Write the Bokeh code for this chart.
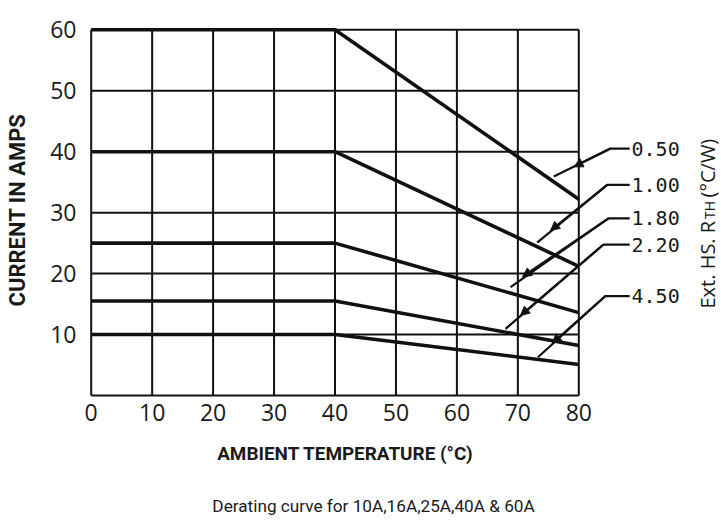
import math
from bokeh.plotting import figure
from bokeh.layouts import column
from bokeh.models import Range1d, FixedTicker, Arrow, NormalHead, ColumnDataSource
from bokeh.core.properties import value
from bokeh.embed import file_html
from bokeh.resources import INLINE

# ---------------- data ----------------
temps = [0, 40, 80]                       # ambient temperature break points (°C)
i_050 = [60, 60, 32.2]                    # Rth 0.50 °C/W
i_100 = [40, 40, 21.2]                    # Rth 1.00 °C/W
i_180 = [25, 25, 13.6]                    # Rth 1.80 °C/W
i_220 = [15.5, 15.5, 8.2]                 # Rth 2.20 °C/W
i_450 = [10, 10, 5.1]                     # Rth 4.50 °C/W
rth_labels = ["0.50", "1.00", "1.80", "2.20", "4.50"]
x_ticks = [0, 10, 20, 30, 40, 50, 60, 70, 80]
y_grid = [0, 10, 20, 30, 40, 50, 60]
y_ticks = [10, 20, 30, 40, 50, 60]
x_title = "AMBIENT TEMPERATURE (°C)"
y_title = "CURRENT IN AMPS"
caption = "Derating curve for 10A,16A,25A,40A & 60A"

# ---------------- layout constants ----------------
PX = 6.095                      # pixels per data unit (both axes)
OX, OY = 90.7, 395.0            # pixel position of data origin
W = 721
H1, H2 = 436, 85                # main chart + caption strip
ML, MR, MT, MB = 87, 0, 20, 37
fw, fh = W - ML - MR, H1 - MT - MB
x0 = (ML - OX) / PX
x1 = x0 + fw / PX
y1 = (OY - MT) / PX
y0 = y1 - fh / PX
STRIP_SHIFT = 9                 # measured vertical offset of the caption strip

INK = "#111111"
TXT = "#1a1a1a"

p = figure(width=W, height=H1, x_range=Range1d(x0, x1), y_range=Range1d(y0, y1),
           output_backend="svg", toolbar_location=None, title=None,
           min_border_left=ML, min_border_right=MR, min_border_top=MT, min_border_bottom=MB)
p.outline_line_color = None
p.xgrid.visible = False
p.ygrid.visible = False
p.background_fill_color = "white"
p.border_fill_color = "white"

# grid drawn from tick arrays, limited to the 0..80 / 0..60 box
gx0, gx1 = min(x_ticks), max(x_ticks)
gy0, gy1 = min(y_grid), max(y_grid)
p.segment(x0=x_ticks, y0=[gy0] * len(x_ticks), x1=x_ticks, y1=[gy1] * len(x_ticks),
          line_color=INK, line_width=2.0)
p.segment(x0=[gx0] * len(y_grid), y0=y_grid, x1=[gx1] * len(y_grid), y1=y_grid,
          line_color=INK, line_width=2.0)

# derating curves
for s in [i_050, i_100, i_180, i_220, i_450]:
    p.line(temps, s, line_width=3.6, line_color=INK, line_join="round")

# axes (tick labels only)
p.xaxis.ticker = FixedTicker(ticks=x_ticks)
p.yaxis.ticker = FixedTicker(ticks=y_ticks)
for ax in (p.xaxis, p.yaxis):
    ax.axis_line_color = None
    ax.major_tick_line_color = None
    ax.minor_tick_line_color = None
    ax.major_tick_out = 0
    ax.major_tick_in = 0
    ax.major_label_text_font = "Open Sans"
    ax.major_label_text_font_size = "23px"
    ax.major_label_text_color = TXT
p.xaxis.major_label_standoff = 4
p.yaxis.major_label_standoff = 11
p.yaxis.axis_label = y_title
p.yaxis.axis_label_text_font = "Roboto"
p.yaxis.axis_label_text_font_style = "bold"
p.yaxis.axis_label_text_font_size = "22px"
p.yaxis.axis_label_text_color = TXT
p.yaxis.axis_label_standoff = 17

# Rth labels with leader lines and arrowheads (annotation positions)
lab_x = 88.65
lab_y = [40.52, 34.57, 29.07, 24.77, 16.32]
bend_x = [85.2, 84.66, 84.87, 84.05, 84.37]
end_x = [75.9, 73.17, 68.8, 67.98, 73.3]
end_y = [35.93, 25.07, 17.77, 10.94, 6.28]
arr_x = [79.2, 75.36, 70.76, 70.43, 75.64]
arr_y = [37.52, 27.07, 19.48, 13.13, 8.58]

src = ColumnDataSource(dict(x=[lab_x] * len(rth_labels), y=lab_y, t=rth_labels))
p.text(x="x", y="y", text="t", source=src, text_font=value("DejaVu Sans Mono"),
       text_font_size="20px", text_align="left", text_baseline="middle", text_color=TXT)

xs = [[lab_x - 0.3, bx, ex] for bx, ex in zip(bend_x, end_x)]
ys = [[ly, ly, ey] for ly, ey in zip(lab_y, end_y)]
p.multi_line(xs, ys, line_color=INK, line_width=2.2, line_join="round")
for bx, ly, ax_, ay in zip(bend_x, lab_y, arr_x, arr_y):
    p.add_layout(Arrow(end=NormalHead(size=9, fill_color=INK, line_color=INK, line_width=1),
                       x_start=bx, y_start=ly, x_end=ax_, y_end=ay,
                       line_color=INK, line_width=2.2))

# right-hand title "Ext. HS. RTH (°C/W)" with small TH, reading upward
rx = (707 - OX) / PX
rt_text = ["Ext. HS. R", "TH", "(°C/W)"]
rt_y = [(OY - 308) / PX, (OY - 218.5) / PX, (OY - 197) / PX]
rt_size = ["20px", "14px", "20px"]
rt_dx = [0, 0.35, 0]            # small caps sit on the same baseline
rsrc = ColumnDataSource(dict(x=[rx + d for d in rt_dx], y=rt_y, t=rt_text, s=rt_size))
p.text(x="x", y="y", text="t", source=rsrc, angle=math.pi / 2, text_font=value("Open Sans"),
       text_font_size="s", text_align="left", text_baseline="middle", text_color=TXT)

# ---------------- caption strip (same horizontal scale) ----------------
p2 = figure(width=W, height=H2, title=None,
            x_range=Range1d(-OX / PX, (W - OX) / PX),
            y_range=Range1d((OY - H1 - H2) / PX, (OY - H1) / PX),
            output_backend="svg", toolbar_location=None, x_axis_type=None, y_axis_type=None,
            min_border_left=0, min_border_right=0, min_border_top=0, min_border_bottom=0)
p2.outline_line_color = None
p2.xgrid.visible = False
p2.ygrid.visible = False
p2.background_fill_color = "white"
p2.border_fill_color = "white"

p2.text(x=[(293.3 - OX) / PX], y=[(OY - 461.5 + STRIP_SHIFT) / PX], text=[x_title],
        text_font=value("Roboto"), text_font_style="bold", text_font_size="18.9px",
        text_align="center", text_baseline="alphabetic", text_color=TXT)
p2.text(x=[(325.3 - OX) / PX], y=[(OY - 514 + STRIP_SHIFT) / PX], text=[caption],
        text_font=value("Roboto"), text_font_size="17.2px",
        text_align="center", text_baseline="alphabetic", text_color=TXT)

open("out.html", "w").write(file_html(column(p, p2, spacing=0), INLINE))
